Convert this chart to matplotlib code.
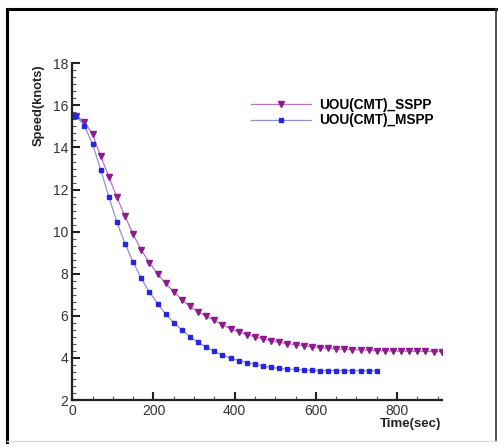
import matplotlib
matplotlib.use("Agg")
from matplotlib import pyplot as plt
from matplotlib.ticker import MultipleLocator, AutoMinorLocator
from matplotlib.lines import Line2D

plt.rcParams['font.family'] = ['Liberation Sans', 'DejaVu Sans']

# time samples (sec)
t_sspp = [0] + list(range(10, 911, 20))
t_mspp = [0] + list(range(10, 751, 20))

# speed (knots), single-screw case
speed_sspp = [15.5, 15.5, 15.22, 14.62, 13.59, 12.61, 11.63, 10.72, 9.87, 9.13,
              8.52, 8.00, 7.54, 7.14, 6.77, 6.45, 6.19, 5.98, 5.78, 5.57,
              5.38, 5.23, 5.11, 5.00, 4.90, 4.81, 4.74, 4.68, 4.63, 4.58,
              4.53, 4.49, 4.46, 4.43, 4.41, 4.39, 4.38, 4.36, 4.35, 4.34,
              4.33, 4.32, 4.32, 4.31, 4.31, 4.30, 4.30]
# speed (knots), multi-screw case
speed_mspp = [15.5, 15.5, 15.03, 14.15, 12.93, 11.66, 10.44, 9.43, 8.55, 7.78,
              7.13, 6.58, 6.09, 5.67, 5.33, 5.01, 4.74, 4.51, 4.31, 4.13,
              3.99, 3.87, 3.78, 3.69, 3.61, 3.55, 3.50, 3.47, 3.45, 3.43,
              3.41, 3.40, 3.40, 3.40, 3.40, 3.39, 3.39, 3.39, 3.39]

fig = plt.figure(figsize=(4.98, 4.46), dpi=100)
ax = fig.add_axes([72.3/498, 46/446, (441.7-72.3)/498, (400-63.3)/446])

ax.plot(t_sspp, speed_sspp, color='#c070c0', lw=0.9, marker='v', ms=4,
        mfc='#8e1a8e', mec='#8e1a8e', label='UOU(CMT)_SSPP')
ax.plot(t_mspp, speed_mspp, color='#9090d8', lw=0.9, marker='s', ms=3.5,
        mfc='#2626e0', mec='#2626e0', label='UOU(CMT)_MSPP')

ax.set_xlim(0, 910)
ax.set_ylim(2, 18)
ax.xaxis.set_major_locator(MultipleLocator(200))
ax.xaxis.set_minor_locator(MultipleLocator(50))
ax.yaxis.set_major_locator(MultipleLocator(2))
ax.yaxis.set_minor_locator(AutoMinorLocator(6))

for s in ['top', 'right']:
    ax.spines[s].set_visible(False)
for s in ['left', 'bottom']:
    ax.spines[s].set_linewidth(1.6)
    ax.spines[s].set_color('#222222')

ax.tick_params(which='major', direction='in', length=6, width=1.5,
               color='#222222', labelsize=10, labelcolor='#333333', pad=3)
ax.tick_params(which='minor', direction='in', length=3, width=0.8,
               color='#555555')

ax.set_ylabel('Speed(knots)', fontsize=9.3, fontweight='bold', color='#222222')
ax.yaxis.set_label_coords(-0.075, 0.875)
ax.text(1.0, -0.052, 'Time(sec)', transform=ax.transAxes, ha='right', va='top',
        fontsize=9.5, fontweight='bold', color='#222222')

ax.legend(loc='upper left', bbox_to_anchor=(244/498, 1-91/446),
          bbox_transform=fig.transFigure, frameon=False, numpoints=1,
          prop={'weight': 'bold', 'size': 9.8}, borderpad=0,
          handlelength=4.4, handletextpad=0.6, labelspacing=0.12)

# picture frame around the figure
fig.add_artist(Line2D([6.5/498, 6.5/498], [1-9/446, 1-442/446],
                      transform=fig.transFigure, color='black', lw=2.2))
fig.add_artist(Line2D([6.5/498, 1.0], [1-9/446, 1-9/446],
                      transform=fig.transFigure, color='black', lw=2.2))
fig.add_artist(Line2D([496/498, 496/498], [1-9/446, 1-441/446],
                      transform=fig.transFigure, color='#333333', lw=1.2))
fig.add_artist(Line2D([6.5/498, 496/498], [1-441/446, 1-441/446],
                      transform=fig.transFigure, color='#dddddd', lw=1.0))

fig.savefig('out.png', dpi=100)
